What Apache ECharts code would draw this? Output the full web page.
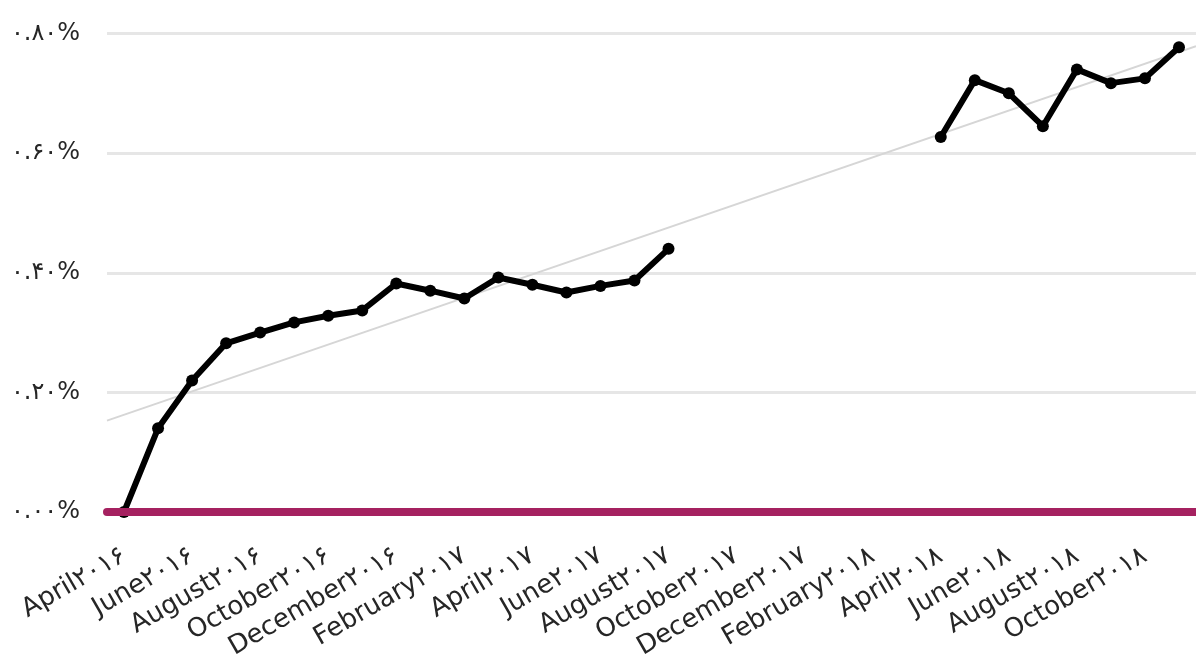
<!DOCTYPE html>
<html>
<head>
<meta charset="utf-8">
<script src="https://cdn.jsdelivr.net/npm/echarts@6/dist/echarts.min.js"></script>
<style>
html,body{margin:0;padding:0;background:#ffffff;}
#chart{width:1196px;height:664px;}
</style>
</head>
<body>
<div id="chart"></div>
<script>
// Categories: monthly, April 2016 – November 2018
const categories = [
  'April۲۰۱۶','May۲۰۱۶','June۲۰۱۶','July۲۰۱۶','August۲۰۱۶','September۲۰۱۶','October۲۰۱۶','November۲۰۱۶','December۲۰۱۶',
  'January۲۰۱۷','February۲۰۱۷','March۲۰۱۷','April۲۰۱۷','May۲۰۱۷','June۲۰۱۷','July۲۰۱۷','August۲۰۱۷','September۲۰۱۷','October۲۰۱۷','November۲۰۱۷','December۲۰۱۷',
  'January۲۰۱۸','February۲۰۱۸','March۲۰۱۸','April۲۰۱۸','May۲۰۱۸','June۲۰۱۸','July۲۰۱۸','August۲۰۱۸','September۲۰۱۸','October۲۰۱۸','November۲۰۱۸'
];
// Values in percent (null = no data)
const values = [
  0.000, 0.140, 0.220, 0.282, 0.300, 0.317, 0.328, 0.337, 0.382,
  0.370, 0.357, 0.392, 0.380, 0.367, 0.378, 0.387, 0.440, null, null, null, null,
  null, null, null, 0.627, 0.722, 0.700, 0.645, 0.740, 0.717, 0.725, 0.777
];
const yTickLabels = ['۰.۰۰%','۰.۲۰%','۰.۴۰%','۰.۶۰%','۰.۸۰%'];

// Linear trendline (least squares over available points)
function trendFit(vals){
  let n=0,sx=0,sy=0,sxx=0,sxy=0;
  vals.forEach((v,i)=>{ if(v!==null){ n++; sx+=i; sy+=v; sxx+=i*i; sxy+=i*v; } });
  const b=(n*sxy-sx*sy)/(n*sxx-sx*sx);
  const a=(sy-b*sx)/n;
  return {a,b};
}
const fit = trendFit(values);
const tMin = -0.5, tMax = categories.length - 0.5;
const trendData = [[tMin, fit.a + fit.b*tMin],[tMax, fit.a + fit.b*tMax]];

const chart = echarts.init(document.getElementById('chart'));
const FONT = '"DejaVu Sans", sans-serif';
chart.setOption({
  animation:false,
  backgroundColor:'#ffffff',
  grid:{left:107,right:-4,top:33.5,bottom:152,containLabel:false},
  xAxis:[{
    type:'category',
    data:categories,
    boundaryGap:true,
    z:5,
    axisLine:{show:true,lineStyle:{color:'#a52160',width:8}},
    axisTick:{show:false},
    axisLabel:{
      interval:1,rotate:30,margin:42,fontSize:26,color:'#262626',fontFamily:FONT
    },
    splitLine:{show:false}
  },{
    type:'value',
    min:tMin,max:tMax,
    show:false
  }],
  yAxis:{
    type:'value',
    min:0,max:0.8,interval:0.2,
    axisLine:{show:false},
    axisTick:{show:false},
    axisLabel:{
      margin:27,fontSize:24,color:'#262626',fontFamily:FONT,
      formatter:function(v){ return yTickLabels[Math.round(v/0.2)]; }
    },
    splitLine:{lineStyle:{color:'#e6e6e6',width:3}}
  },
  series:[{
    type:'line',
    xAxisIndex:1,
    data:trendData,
    symbol:'none',
    lineStyle:{color:'#d6d6d6',width:2},
    z:1,
    silent:true
  },{
    type:'line',
    xAxisIndex:0,
    data:values,
    connectNulls:false,
    symbol:'circle',
    symbolSize:12,
    itemStyle:{color:'#000000'},
    lineStyle:{color:'#000000',width:6},
    z:3
  }]
});
</script>
</body>
</html>
